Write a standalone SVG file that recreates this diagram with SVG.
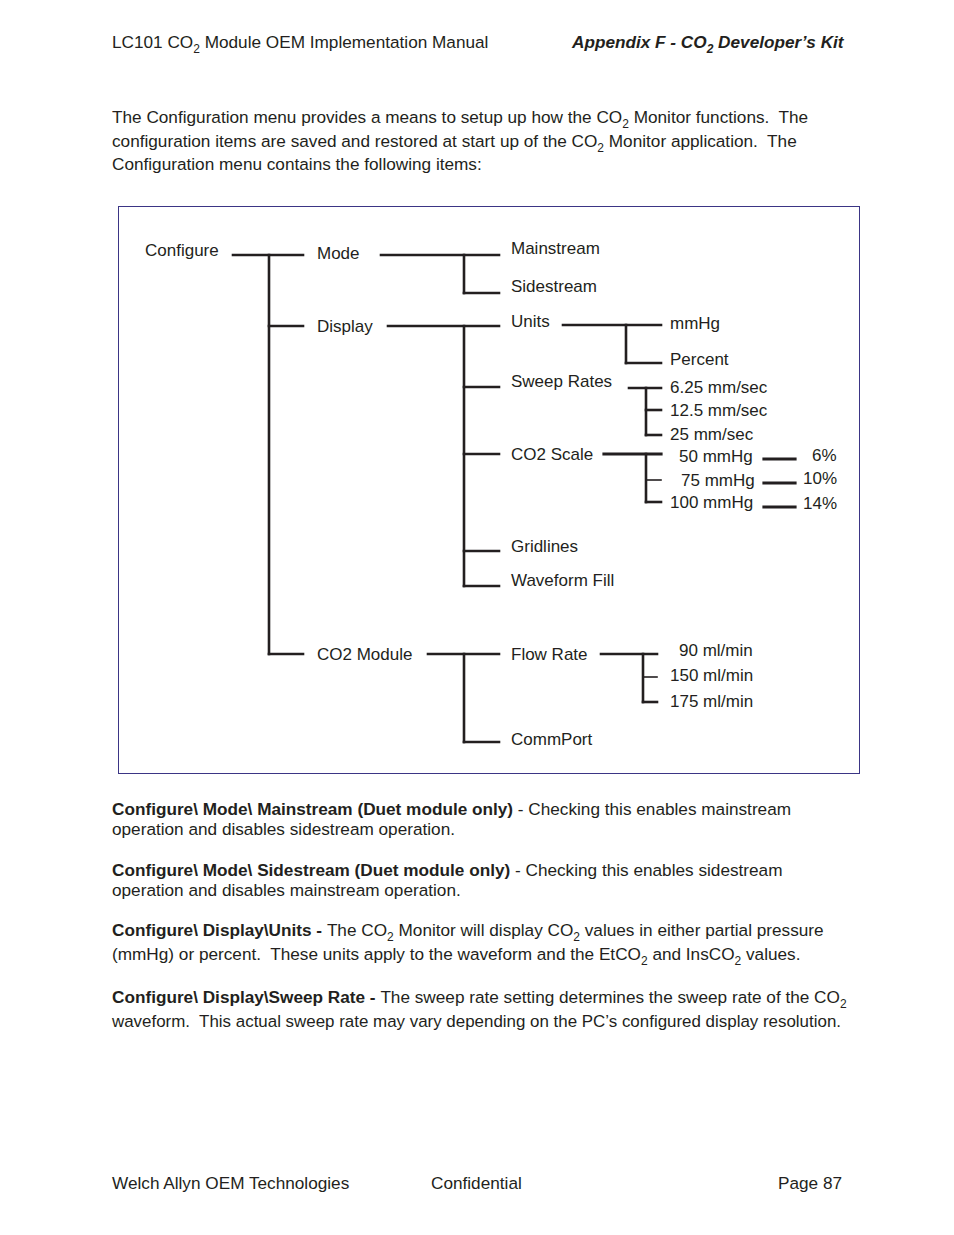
<svg xmlns="http://www.w3.org/2000/svg" width="954" height="1235" viewBox="0 0 954 1235">
<style>
text{font-family:"Liberation Sans",Arial,sans-serif;fill:#231f20;white-space:pre}
.t{font-size:17.2px}
.n{font-size:17px}
.b{font-weight:bold}
.bi{font-weight:bold;font-style:italic}
.s{font-size:12px}
#connectors line{stroke:#231f20;stroke-width:2.6;stroke-linecap:square}
</style>
<rect x="0" y="0" width="954" height="1235" fill="#fff"/>
<text class="t" x="112" y="48">LC101 CO<tspan class="s" dy="5">2</tspan><tspan dy="-5"> Module OEM Implementation Manual</tspan></text>
<text class="t bi" x="572" y="48">Appendix F - CO<tspan class="s" dy="5">2</tspan><tspan dy="-5"> Developer’s Kit</tspan></text>
<text class="t" x="112" y="123">The Configuration menu provides a means to setup up how the CO<tspan class="s" dy="5">2</tspan><tspan dy="-5"> Monitor functions.  The</tspan></text>
<text class="t" x="112" y="147">configuration items are saved and restored at start up of the CO<tspan class="s" dy="5">2</tspan><tspan dy="-5"> Monitor application.  The</tspan></text>
<text class="t" x="112" y="170">Configuration menu contains the following items:</text>
<rect x="118.5" y="206.5" width="741" height="567" fill="none" stroke="#3b3585" stroke-width="1"/>
<g id="connectors">
<line x1="233" y1="255" x2="303" y2="255"/>
<line x1="269" y1="255" x2="269" y2="654"/>
<line x1="269" y1="326" x2="303" y2="326"/>
<line x1="269" y1="654" x2="303" y2="654"/>
<line x1="381" y1="255" x2="499" y2="255"/>
<line x1="464" y1="255" x2="464" y2="293"/>
<line x1="464" y1="293" x2="499" y2="293"/>
<line x1="388" y1="326" x2="499" y2="326"/>
<line x1="464" y1="326" x2="464" y2="586"/>
<line x1="464" y1="387" x2="499" y2="387"/>
<line x1="464" y1="454" x2="499" y2="454"/>
<line x1="464" y1="551" x2="499" y2="551"/>
<line x1="464" y1="586" x2="499" y2="586"/>
<line x1="428" y1="654" x2="499" y2="654"/>
<line x1="464" y1="654" x2="464" y2="742"/>
<line x1="464" y1="742" x2="499" y2="742"/>
<line x1="563" y1="325" x2="661" y2="325"/>
<line x1="626" y1="325" x2="626" y2="363"/>
<line x1="626" y1="363" x2="661" y2="363"/>
<line x1="629" y1="388" x2="661" y2="388"/>
<line x1="646" y1="388" x2="646" y2="435"/>
<line x1="646" y1="410" x2="661" y2="410"/>
<line x1="646" y1="435" x2="661" y2="435"/>
<line x1="604" y1="454" x2="661" y2="454" style="stroke-width:3.2"/>
<line x1="646" y1="454" x2="646" y2="502"/>
<line x1="646" y1="480" x2="661" y2="480" style="stroke-width:1.6"/>
<line x1="646" y1="502" x2="661" y2="502"/>
<line x1="764" y1="459" x2="795" y2="459" style="stroke-width:3.2"/>
<line x1="764" y1="483" x2="795" y2="483" style="stroke-width:3.2"/>
<line x1="764" y1="507" x2="795" y2="507" style="stroke-width:3.2"/>
<line x1="601" y1="654" x2="657" y2="654"/>
<line x1="643" y1="654" x2="643" y2="702"/>
<line x1="643" y1="677" x2="657" y2="677" style="stroke-width:1.6"/>
<line x1="643" y1="702" x2="657" y2="702"/>
</g>
<g id="configure"><text class="n" x="145" y="256">Configure</text></g>
<g id="mode"><text class="n" x="317" y="259">Mode</text></g>
<g id="display"><text class="n" x="317" y="332">Display</text></g>
<g id="co2module"><text class="n" x="317" y="660">CO2 Module</text></g>
<g id="mainstream"><text class="n" x="511" y="254">Mainstream</text></g>
<g id="sidestream"><text class="n" x="511" y="292">Sidestream</text></g>
<g id="units"><text class="n" x="511" y="327">Units</text></g>
<g id="sweeprates"><text class="n" x="511" y="387">Sweep Rates</text></g>
<g id="co2scale"><text class="n" x="511" y="460">CO2 Scale</text></g>
<g id="gridlines"><text class="n" x="511" y="552">Gridlines</text></g>
<g id="waveformfill"><text class="n" x="511" y="586">Waveform Fill</text></g>
<g id="flowrate"><text class="n" x="511" y="660">Flow Rate</text></g>
<g id="commport"><text class="n" x="511" y="745">CommPort</text></g>
<g id="mmhg"><text class="n" x="670" y="329">mmHg</text></g>
<g id="percent"><text class="n" x="670" y="365">Percent</text></g>
<g id="sr625"><text class="n" x="670" y="393">6.25 mm/sec</text></g>
<g id="sr125"><text class="n" x="670" y="416">12.5 mm/sec</text></g>
<g id="sr25"><text class="n" x="670" y="440">25 mm/sec</text></g>
<g id="s50"><text class="n" x="679" y="462">50 mmHg</text></g>
<g id="s75"><text class="n" x="681" y="486">75 mmHg</text></g>
<g id="s100"><text class="n" x="670" y="508">100 mmHg</text></g>
<g id="p6"><text class="n" x="812" y="461">6%</text></g>
<g id="p10"><text class="n" x="803" y="484">10%</text></g>
<g id="p14"><text class="n" x="803" y="509">14%</text></g>
<g id="f90"><text class="n" x="679" y="656">90 ml/min</text></g>
<g id="f150"><text class="n" x="670" y="681">150 ml/min</text></g>
<g id="f175"><text class="n" x="670" y="707">175 ml/min</text></g>
<text class="t" x="112" y="815"><tspan class="b">Configure\ Mode\ Mainstream (Duet module only)</tspan> - Checking this enables mainstream</text>
<text class="t" x="112" y="835">operation and disables sidestream operation.</text>
<text class="t" x="112" y="876"><tspan class="b">Configure\ Mode\ Sidestream (Duet module only)</tspan> - Checking this enables sidestream</text>
<text class="t" x="112" y="896">operation and disables mainstream operation.</text>
<text class="t" x="112" y="936"><tspan class="b">Configure\ Display\Units - </tspan>The CO<tspan class="s" dy="5">2</tspan><tspan dy="-5"> Monitor will display CO</tspan><tspan class="s" dy="5">2</tspan><tspan dy="-5"> values in either partial pressure</tspan></text>
<text class="t" x="112" y="960">(mmHg) or percent.  These units apply to the waveform and the EtCO<tspan class="s" dy="5">2</tspan><tspan dy="-5"> and InsCO</tspan><tspan class="s" dy="5">2</tspan><tspan dy="-5"> values.</tspan></text>
<text class="t" x="112" y="1003"><tspan class="b">Configure\ Display\Sweep Rate - </tspan>The sweep rate setting determines the sweep rate of the CO<tspan class="s" dy="5">2</tspan></text>
<text class="t" x="112" y="1027" textLength="729" lengthAdjust="spacingAndGlyphs">waveform.  This actual sweep rate may vary depending on the PC’s configured display resolution.</text>
<text class="t" x="112" y="1189">Welch Allyn OEM Technologies</text>
<text class="t" x="431" y="1189">Confidential</text>
<text class="t" x="778" y="1189">Page 87</text>
</svg>
